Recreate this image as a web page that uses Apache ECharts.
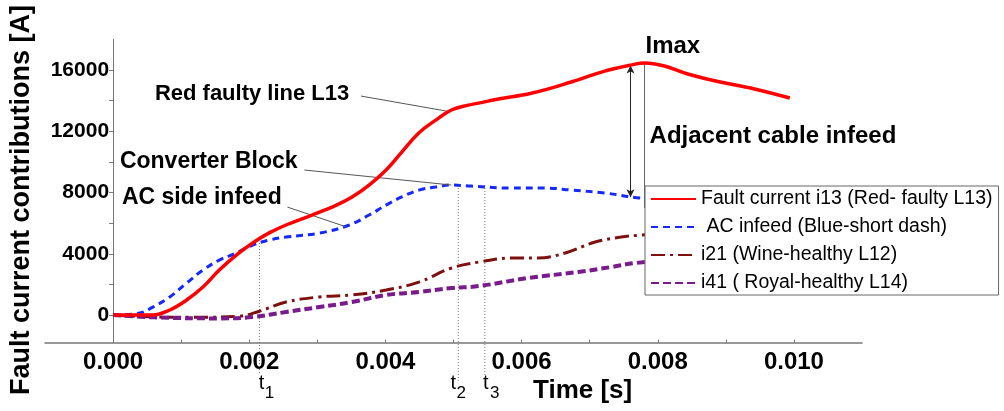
<!DOCTYPE html>
<html>
<head>
<meta charset="utf-8">
<script src="https://cdn.jsdelivr.net/npm/echarts@6/dist/echarts.min.js"></script>
<style>
  html, body { margin: 0; padding: 0; background: #fff; }
  #main { width: 1004px; height: 411px; }
</style>
</head>
<body>
<div id="main"></div>
<script>
  // time axis values are in seconds, currents in A
  var redTime = [0, 0.0004, 0.000585, 0.000833, 0.00108, 0.00132, 0.00156, 0.00181, 0.0021, 0.0023, 0.00254, 0.00292, 0.00328, 0.00351, 0.00376, 0.00401, 0.00424, 0.00449, 0.00474, 0.00497, 0.00522, 0.00537, 0.00566, 0.00614, 0.00673, 0.00722, 0.0076, 0.00781, 0.0081, 0.00844, 0.00892, 0.00942, 0.00994];
  var redVal = [0, 0, 0, 330, 980, 1830, 2940, 3920, 4850, 5380, 5880, 6530, 7180, 7710, 8490, 9470, 10640, 11890, 12730, 13390, 13710, 13840, 14110, 14480, 15220, 15930, 16320, 16460, 16260, 15740, 15220, 14760, 14170];

  var blueTime = [0, 0.000395, 0.000585, 0.000833, 0.00108, 0.00132, 0.00156, 0.00181, 0.00205, 0.0023, 0.00254, 0.00303, 0.00347, 0.00376, 0.00401, 0.00424, 0.00449, 0.00474, 0.00497, 0.00526, 0.00585, 0.00635, 0.00673, 0.00722, 0.00775, 0.0085, 0.0093, 0.0100];
  var blueVal = [0, 130, 520, 1180, 2090, 2940, 3590, 4050, 4570, 4900, 5090, 5350, 5880, 6530, 7180, 7710, 8160, 8360, 8490, 8420, 8290, 8290, 8160, 7970, 7640, 7450, 7350, 7300];

  var wineTime = [0, 0.0006, 0.0012, 0.00185, 0.00215, 0.00254, 0.00303, 0.00351, 0.00401, 0.00449, 0.00497, 0.00537, 0.00585, 0.00624, 0.00664, 0.00708, 0.00746, 0.00775, 0.0085, 0.0093, 0.0100];
  var wineVal = [0, -130, -150, -80, 250, 850, 1180, 1310, 1630, 2150, 3070, 3460, 3720, 3720, 4050, 4770, 5090, 5220, 5450, 5650, 5800];

  var purpleTime = [0, 0.0006, 0.00156, 0.00205, 0.00254, 0.00303, 0.00351, 0.00401, 0.00449, 0.00497, 0.00537, 0.0061, 0.00683, 0.00731, 0.00768, 0.0085, 0.0093, 0.0100];
  var purpleVal = [0, -150, -220, -130, 200, 520, 850, 1310, 1500, 1760, 1890, 2420, 2810, 3130, 3400, 3700, 3950, 4200];

  var seriesNames = ['Fault current i13 (Red- faulty L13)', ' AC infeed (Blue-short dash)', 'i21 (Wine-healthy L12)', 'i41 ( Royal-healthy L14)'];

  var xLabelValues = [0, 0.002, 0.004, 0.006, 0.008, 0.010];
  var xTickValues = [0, 0.001, 0.002, 0.003, 0.004, 0.005, 0.006, 0.007, 0.008, 0.009, 0.010];
  var yLabelValues = [0, 4000, 8000, 12000, 16000];
  var yTickValues = [0, 2000, 4000, 6000, 8000, 10000, 12000, 14000, 16000];

  // t1, t2, t3 marker times and where their dotted lines start / end
  var tNames = ['1', '2', '3'];
  var tTimes = [0.00215, 0.00507, 0.00546];
  var tTopVal = [4700, 8490, 8490];
  var tBottomVal = [-3800, -4300, -4300];

  // text notes and their leader lines [t0, v0, t1, v1]
  var noteText = ['Red faulty line L13', 'Converter Block', 'AC side infeed', 'Imax', 'Adjacent cable infeed'];
  var noteTime = [0.000614, 0.00010, 0.00013, 0.00782, 0.00788];
  var noteVal = [14430, 9990, 7640, 17570, 11690];
  var leaders = [
    [0.00364, 14300, 0.00492, 13300],
    [0.00281, 9470, 0.00497, 8490],
    [0.00256, 7050, 0.00341, 5780]
  ];
  var imaxTime = 0.0078, imaxVal = 16460;
  var arrowTime = 0.0076, arrowTop = 16300, arrowBottom = 7700;

  function pairs(t, v) {
    return t.map(function (x, i) { return [x, v[i]]; });
  }

  var FONT = 'Liberation Sans, Arial, sans-serif';
  var chart = echarts.init(document.getElementById('main'));

  var marks = [];
  leaders.forEach(function (l) {
    marks.push([{ coord: [l[0], l[1]], lineStyle: { color: '#555', width: 1, type: 'solid' } }, { coord: [l[2], l[3]] }]);
  });
  marks.push([{ coord: [imaxTime, imaxVal], lineStyle: { color: '#666', width: 1, type: 'solid' } }, { coord: [imaxTime, 7000] }]);
  marks.push([{ coord: [arrowTime, arrowTop], symbol: 'arrow', lineStyle: { color: '#222', width: 1, type: 'solid' } }, { coord: [arrowTime, arrowBottom], symbol: 'arrow' }]);

  var option = {
    animation: false,
    grid: { left: 45, right: 142, top: 39.4, bottom: 68.4, outerBoundsMode: 'none' },
    xAxis: {
      type: 'value', min: -0.001, max: 0.011,
      axisLine: { onZero: false, lineStyle: { color: '#777', width: 1.5 } },
      axisTick: { show: true, inside: true, length: 3, customValues: xTickValues, lineStyle: { color: '#777' } },
      axisLabel: {
        customValues: xLabelValues, margin: 8,
        formatter: function (v) { return v.toFixed(3); },
        color: '#000', fontWeight: 'bold', fontSize: 24, fontFamily: FONT
      },
      splitLine: { show: false }
    },
    yAxis: {
      type: 'value', min: -1800, max: 18000,
      axisLine: { show: true, onZero: false, lineStyle: { color: '#777', width: 1 } },
      axisTick: { show: true, length: 4, customValues: yTickValues, lineStyle: { color: '#777' } },
      axisLabel: {
        customValues: yLabelValues, margin: 4,
        formatter: function (v) { return String(v); },
        color: '#000', fontWeight: 'bold', fontSize: 21, fontFamily: FONT
      },
      splitLine: { show: false }
    },
    legend: {
      data: seriesNames, z: 20,
      orient: 'vertical', left: 645, top: 186,
      backgroundColor: '#fff', borderColor: '#666', borderWidth: 1,
      padding: [3, 6, 2, 5], itemGap: 8, itemWidth: 45, itemHeight: 14,
      itemStyle: { color: 'transparent', borderColor: 'transparent', borderWidth: 0 },
      textStyle: { color: '#000', fontSize: 19.5, fontFamily: FONT }
    },
    series: [
      {
        name: seriesNames[0], type: 'line', data: pairs(redTime, redVal),
        smooth: 0.4, symbol: 'none', z: 5,
        lineStyle: { color: '#ff0000', width: 3.5 },
        itemStyle: { color: '#ff0000' },
        markLine: { silent: true, symbol: ['none', 'none'], symbolSize: [6, 8], label: { show: false }, data: marks }
      },
      {
        name: seriesNames[1], type: 'line', data: pairs(blueTime, blueVal),
        smooth: 0.4, symbol: 'none', z: 4,
        lineStyle: { color: '#1428ff', width: 3, type: [7, 5] },
        itemStyle: { color: '#1428ff' }
      },
      {
        name: seriesNames[2], type: 'line', data: pairs(wineTime, wineVal),
        smooth: 0.4, symbol: 'none', z: 3,
        lineStyle: { color: '#7f1010', width: 3, type: [14, 5, 3, 5] },
        itemStyle: { color: '#7f1010' }
      },
      {
        name: seriesNames[3], type: 'line', data: pairs(purpleTime, purpleVal),
        smooth: 0.4, symbol: 'none', z: 3,
        lineStyle: { color: '#7a1a8c', width: 4, type: [8, 4] },
        itemStyle: { color: '#7a1a8c' }
      }
    ]
  };
  chart.setOption(option);

  // move the y axis onto x = 0
  var zeroX = chart.convertToPixel({ xAxisIndex: 0 }, 0);
  var gridLeft = chart.convertToPixel({ xAxisIndex: 0 }, -0.001);
  chart.setOption({ yAxis: { offset: -(zeroX - gridLeft) } });

  // notes, t markers and axis titles
  var graphics = [];
  noteText.forEach(function (txt, i) {
    var p = chart.convertToPixel({ gridIndex: 0 }, [noteTime[i], noteVal[i]]);
    graphics.push({
      type: 'text', x: p[0], y: p[1], z: 10,
      style: { text: txt, fill: '#000', font: 'bold ' + (i < 1 ? 22 : (i < 3 ? 23 : 24)) + 'px ' + FONT, verticalAlign: 'middle', align: 'left' }
    });
  });
  var tOffsets = [[2, 10], [-5, 3], [1, 10]];
  tTimes.forEach(function (t, i) {
    var a = chart.convertToPixel({ gridIndex: 0 }, [t, tTopVal[i]]);
    var b = chart.convertToPixel({ gridIndex: 0 }, [t, tBottomVal[i]]);
    graphics.push({ type: 'line', z: 1, shape: { x1: a[0], y1: a[1], x2: b[0], y2: b[1] }, style: { stroke: '#777', lineWidth: 1, lineDash: [1, 2] } });
    graphics.push({ type: 'text', x: a[0] + tOffsets[i][0], y: 383, style: { text: 't', fill: '#000', font: '20px ' + FONT, align: 'center', verticalAlign: 'middle' } });
    graphics.push({ type: 'text', x: a[0] + tOffsets[i][1], y: 393, style: { text: tNames[i], fill: '#000', font: '17px ' + FONT, align: 'center', verticalAlign: 'middle' } });
  });
  graphics.push({ type: 'text', x: 533, y: 391, style: { text: 'Time [s]', fill: '#000', font: 'bold 26px ' + FONT, align: 'left', verticalAlign: 'middle' } });
  graphics.push({ type: 'text', x: 22, y: 200, rotation: Math.PI / 2, style: { text: 'Fault current contributions [A]', fill: '#000', font: 'bold 27px ' + FONT, align: 'center', verticalAlign: 'middle' } });
  chart.setOption({ graphic: graphics });
</script>
</body>
</html>
